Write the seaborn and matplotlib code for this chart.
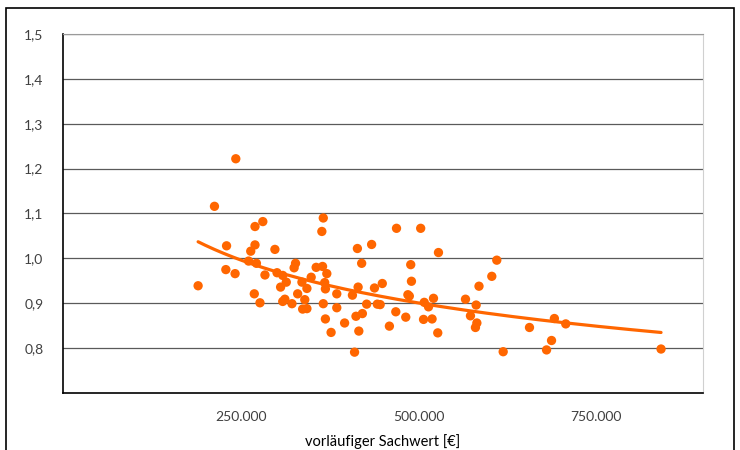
#%%
import numpy as np
import pandas as pd
import seaborn as sns
import matplotlib.pyplot as plt
from matplotlib.patches import Rectangle


#%%
#--Data
#vorläufiger Sachwert in 1000 €
sachwert_k = [190, 213, 243, 230, 229, 242, 270, 281, 270, 264,
              261, 272, 284, 269, 277, 298, 301, 309, 314, 306,
              309, 312, 322, 325, 327, 330, 336, 343, 340, 337,
              343, 349, 356, 365, 366, 364, 371, 368, 369, 385,
              366, 385, 369, 377, 396, 414, 434, 420, 415, 407,
              438, 449, 427, 421, 412, 416, 410, 442, 446, 469,
              503, 489, 490, 485, 487, 468, 459, 482, 508, 514,
              521, 507, 519, 527, 528, 566, 581, 585, 573, 580,
              582, 610, 603, 619, 656, 680, 687, 691, 707, 841]
#Marktanpassungsfaktor
faktor = [0.939, 1.116, 1.222, 1.028, 0.975, 0.966, 1.071, 1.082, 1.030, 1.016,
          0.994, 0.989, 0.963, 0.921, 0.901, 1.020, 0.968, 0.962, 0.947, 0.936,
          0.904, 0.909, 0.899, 0.979, 0.989, 0.921, 0.947, 0.933, 0.908, 0.887,
          0.888, 0.958, 0.980, 0.982, 1.090, 1.060, 0.966, 0.946, 0.932, 0.921,
          0.899, 0.890, 0.865, 0.835, 0.856, 1.022, 1.031, 0.989, 0.936, 0.918,
          0.934, 0.944, 0.898, 0.877, 0.871, 0.838, 0.791, 0.898, 0.897, 1.067,
          1.067, 0.986, 0.949, 0.919, 0.916, 0.881, 0.849, 0.869, 0.902, 0.892,
          0.911, 0.864, 0.865, 0.834, 1.013, 0.909, 0.896, 0.938, 0.872, 0.846,
          0.856, 0.996, 0.960, 0.792, 0.846, 0.796, 0.817, 0.866, 0.854, 0.798]

y_ticks = [0.8, 0.9, 1.0, 1.1, 1.2, 1.3, 1.4, 1.5]
x_ticks = [250000, 500000, 750000]

df = pd.DataFrame({'x': np.array(sachwert_k) * 1000, 'y': faktor})

#--Power trendline (like Excel): fit in log-log space
b, ln_a = np.polyfit(np.log(df['x']), np.log(df['y']), 1)
x_fit = np.linspace(df['x'].min(), df['x'].max(), 200)
df_fit = pd.DataFrame({'x': x_fit, 'y': np.exp(ln_a) * x_fit ** b})


#%%
#--Plot
sns.set_style('white')
plt.rcParams['font.family'] = ['Lato', 'DejaVu Sans']

orange = '#FF6600'
fig = plt.figure(figsize=(7.4, 4.5), dpi=100)
ax = fig.add_axes([63 / 740, 57 / 450, 640 / 740, 359 / 450])

sns.lineplot(data=df_fit, x='x', y='y', ax=ax, color=orange, linewidth=2.3, zorder=2)
sns.scatterplot(data=df, x='x', y='y', ax=ax, color=orange, s=45, edgecolor='none', zorder=3)

ax.set_xlim(0, 900000)
ax.set_ylim(0.7, 1.5)
ax.set_yticks(y_ticks)
ax.set_yticklabels([f'{v:.1f}'.replace('.', ',') for v in y_ticks])
ax.set_xticks(x_ticks)
ax.set_xticklabels([f'{v:,}'.replace(',', '.') for v in x_ticks])
ax.tick_params(axis='both', length=0, labelsize=10, labelcolor='#404040')
ax.tick_params(axis='x', pad=13)
ax.tick_params(axis='y', pad=14)

#Gridlines
ax.yaxis.grid(True, color='#5a5a5a', linewidth=0.9)
ax.set_axisbelow(True)

#Spines
ax.spines['left'].set_color('black')
ax.spines['bottom'].set_color('black')
ax.spines['left'].set_linewidth(1.2)
ax.spines['bottom'].set_linewidth(1.2)
ax.spines['right'].set_color('#d0d0d0')
ax.spines['top'].set_color('#9a9a9a')

ax.set_xlabel('vorläufiger Sachwert [€]', fontsize=10.5, color='black', labelpad=8)
ax.set_ylabel('')

#Chart border (Excel style)
fig.patches.append(Rectangle((6 / 740, -0.05), 728 / 740, 1.05 - 8 / 450,
                             transform=fig.transFigure, fill=False,
                             edgecolor='black', linewidth=1.2))

plt.savefig('out.png', dpi=100)
plt.close()
